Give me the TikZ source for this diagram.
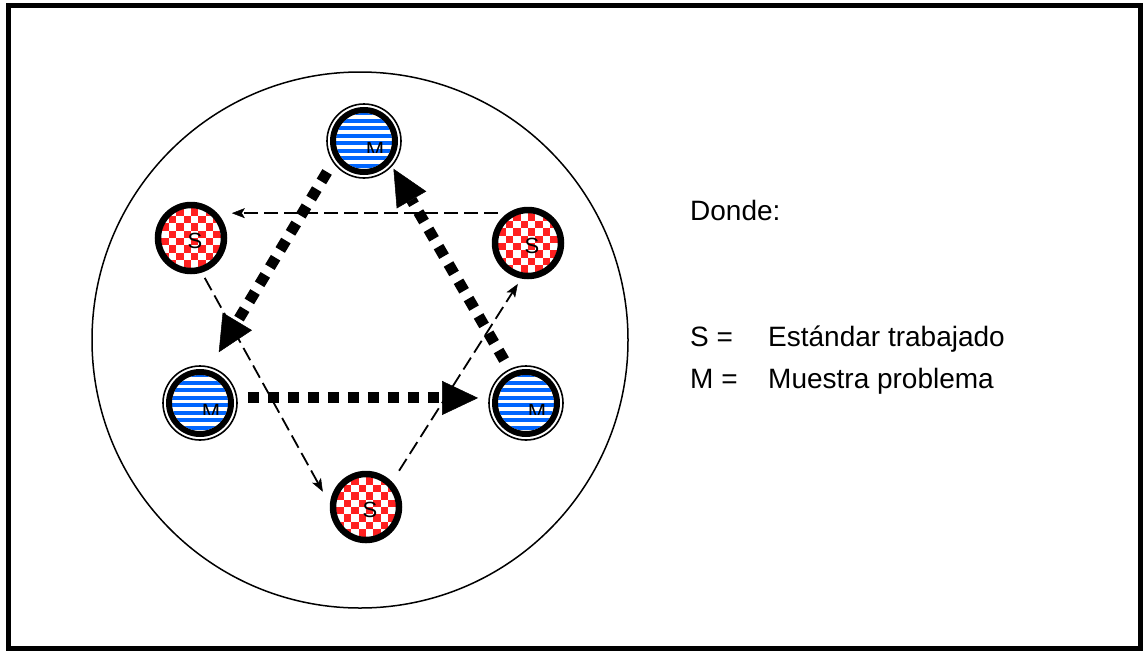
\documentclass[tikz,border=0pt]{standalone}
\usepackage{fontspec}
\setmainfont{Liberation Sans}
\usetikzlibrary{arrows.meta,calc}

\definecolor{stripeblue}{RGB}{0,102,255}
\definecolor{checkred}{RGB}{255,32,32}

% Blue-striped sample disc "M": #1 name, #2 centre
\newcommand\samplenode[2]{%
  \node[circle,inner sep=0pt,minimum size=96pt] (#1) at (#2) {};
  \begin{scope}
    \clip (#1.center) circle[radius=28pt];
    \foreach \k in {-4,...,3}
      \fill[stripeblue] ($(#1.center)+(-30,\k*7.5)$) rectangle ++(60,4.4);
    % the letter is cut off below, as printed
    \clip ($(#1.center)+(-30,-30)$) rectangle ($(#1.center)+(30,11)$);
    \node[discletter,anchor=north] at ($(#1.center)+(11,1)$) {M};
  \end{scope}
  \draw[line width=6pt] (#1.center) circle[radius=31pt];
  \draw[line width=1.6pt] (#1.center) circle[radius=37pt];
}

% Red chequered standard disc "S": #1 name, #2 centre
\newcommand\standardnode[2]{%
  \node[circle,inner sep=0pt,minimum size=84pt] (#1) at (#2) {};
  \begin{scope}
    \clip (#1.center) circle[radius=30pt];
    \foreach \i in {-5,...,4}
      \foreach \j in {-5,...,4} {
        \pgfmathtruncatemacro\cellparity{mod(\i+\j+20,2)}
        \ifnum\cellparity=0
          \fill[checkred] ($(#1.center)+(\i*7.4,\j*7.4)$) rectangle ++(7.4,7.4);
        \fi
      }
    \node[discletter] at ($(#1.center)+(4,3)$) {S};
  \end{scope}
  \draw[line width=6.5pt] (#1.center) circle[radius=33pt];
}

\begin{document}
\begin{tikzpicture}[x=1pt,y=-1pt,
  discletter/.style={font=\fontsize{22}{22}\selectfont,inner sep=0pt},
  legend/.style={font=\fontsize{28}{28}\selectfont,inner sep=0pt,anchor=base west},
  heavyarrow/.style={line width=11pt,dash pattern=on 11pt off 9pt,
    -{Triangle[length=36pt,width=34pt,line width=0.5pt]}},
  lightarrow/.style={line width=1.8pt,dash pattern=on 14pt off 6pt,
    -{Stealth[length=13pt,width=10pt,inset=3pt,line width=0.5pt]}}]

  \useasboundingbox (0,0) rectangle (1143,651);
  \draw[line width=5pt] (8.5,5.5) rectangle (1140.5,648.5);

  % plate
  \node[circle,draw,line width=1.5pt,inner sep=0pt,minimum size=536pt] (plate) at (360,340) {};

  % discs
  \samplenode{Mt}{364,141}
  \samplenode{Ml}{200,403}
  \samplenode{Mr}{526,403}
  \standardnode{Sl}{191,238}
  \standardnode{Sr}{528,243}
  \standardnode{Sb}{366,507}

  % sample path
  \draw[heavyarrow,shorten >=6pt] (Mt.220) -- (Ml.71);
  \draw[heavyarrow] (Ml.6) -- (Mr.174);
  \draw[heavyarrow,shorten >=-8pt] (Mr.117) -- (Mt.314);

  % standard path
  \draw[lightarrow,shorten >=11pt] (Sr.north west) -- (Sl.north east |- Sr.north west);
  \draw[lightarrow,shorten >=5pt] (Sl.-71) -- (Sb.165);
  \draw[lightarrow,shorten <=7pt] (Sb.46) -- (Sr.256);

  % legend
  \node[legend] (donde) at (690,220) {Donde:};
  \node[legend] (skey) at (690,346) {S =};
  \node[legend] (sval) at (768,346) {Estándar trabajado};
  \node[legend] (mkey) at (690,388) {M =};
  \node[legend] (mval) at (768,388) {Muestra problema};
\end{tikzpicture}
\end{document}
